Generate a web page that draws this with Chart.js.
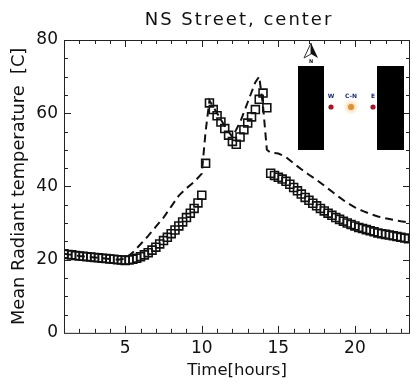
<!DOCTYPE html>
<html>
<head>
<meta charset="utf-8">
<script src="https://cdn.jsdelivr.net/npm/chart.js@4"></script>
<style>
  html, body { margin: 0; padding: 0; background: #fff; }
</style>
</head>
<body>
<canvas id="myChart" width="411" height="384"></canvas>
<script>
const chartTitle = 'NS Street, center';

// simulated mean radiant temperature, squares (every 15 min)
const squareHours = [
  1, 1.25, 1.5, 1.75, 2, 2.25, 2.5, 2.75, 3, 3.25, 3.5, 3.75,
  4, 4.25, 4.5, 4.75, 5, 5.25, 5.5, 5.75, 6, 6.25, 6.5, 6.75,
  7, 7.25, 7.5, 7.75, 8, 8.25, 8.5, 8.75, 9, 9.25, 9.5, 9.75,
  10, 10.25, 10.5, 10.75, 11, 11.25, 11.5, 11.75, 12, 12.25, 12.5, 12.75,
  13, 13.25, 13.5, 13.75, 14, 14.25, 14.5, 14.75, 15, 15.25, 15.5, 15.75,
  16, 16.25, 16.5, 16.75, 17, 17.25, 17.5, 17.75, 18, 18.25, 18.5, 18.75,
  19, 19.25, 19.5, 19.75, 20, 20.25, 20.5, 20.75, 21, 21.25, 21.5, 21.75,
  22, 22.25, 22.5, 22.75, 23, 23.25, 23.5
];
const squareTemp = [
  21.6, 21.4, 21.3, 21.1, 21.0, 20.9, 20.8, 20.7, 20.6, 20.5, 20.4, 20.3,
  20.2, 20.1, 20.0, 19.9, 19.8, 19.9, 20.1, 20.4, 20.8, 21.3, 21.9, 22.6,
  23.4, 24.3, 25.2, 26.1, 27.1, 28.1, 29.2, 30.3, 31.5, 32.7, 34.0, 35.5,
  37.6, 46.3, 62.8, 61.0, 59.3, 57.6, 55.8, 54.0, 52.3, 51.5, 53.5, 55.5,
  57.3, 59.0, 61.0, 63.8, 65.5, 61.5, 43.6, 43.0, 42.5, 42.0, 41.4, 40.6,
  39.7, 38.8, 37.9, 37.0, 36.2, 35.4, 34.7, 34.0, 33.3, 32.7, 32.1, 31.5,
  31.0, 30.5, 30.0, 29.6, 29.2, 28.8, 28.5, 28.2, 27.9, 27.6, 27.3, 27.1,
  26.9, 26.7, 26.5, 26.3, 26.1, 25.9, 25.7
];

// dashed curve
const dashHours = [
  1, 1.5, 2, 2.5, 3, 3.5, 4, 4.5, 5, 5.5, 6, 6.5, 7, 7.5, 8, 8.5, 9, 9.5,
  10, 10.25, 10.5, 11, 11.5, 12, 12.5, 13, 13.5, 13.75, 14, 14.25, 14.5,
  15, 15.5, 16, 16.5, 17, 17.5, 18, 18.5, 19, 19.5, 20, 20.5, 21, 21.5,
  22, 22.5, 23, 23.5, 24
];
const dashTemp = [
  21.6, 21.3, 21.0, 20.8, 20.6, 20.4, 20.2, 20.0, 20.2, 22.0, 24.2, 26.5,
  29.0, 31.5, 34.5, 37.5, 39.5, 41.2,
  43.5, 55.0, 63.5, 60.0, 56.5, 53.5, 57.5, 63.0, 68.5, 70.0, 62.0, 50.0, 49.2,
  49.0, 48.0, 46.3, 44.7, 43.2, 41.8, 40.2, 38.6, 37.0, 35.5, 34.3, 33.3, 32.5, 31.8,
  31.3, 30.9, 30.5, 30.2, 30.0
];

const xTickValues = [5, 10, 15, 20];
const yTickValues = [0, 20, 40, 60, 80];

const ink = '#111';
const fontFamily = '"DejaVu Sans", sans-serif';

// IDL-like box with inward ticks on all four sides
const frameTicks = {
  id: 'frameTicks',
  afterDatasetsDraw(chart) {
    const ctx = chart.ctx;
    const a = chart.chartArea;
    const xs = chart.scales.x, ys = chart.scales.y;
    ctx.save();
    ctx.strokeStyle = '#222';
    ctx.lineWidth = 1;
    ctx.strokeRect(a.left + 0.5, a.top + 0.5, a.right - a.left - 1, a.bottom - a.top);
    ctx.beginPath();
    for (let h = 2; h <= 23; h++) {
      const px = Math.round(xs.getPixelForValue(h)) + 0.5;
      const len = h % 5 === 0 ? 7 : 4;
      ctx.moveTo(px, a.bottom); ctx.lineTo(px, a.bottom - len);
      ctx.moveTo(px, a.top); ctx.lineTo(px, a.top + len);
    }
    for (let v = 5; v < 80; v += 5) {
      const py = Math.round(ys.getPixelForValue(v)) + 0.5;
      const len = v % 20 === 0 ? 7 : 4;
      ctx.moveTo(a.left, py); ctx.lineTo(a.left + len, py);
      ctx.moveTo(a.right, py); ctx.lineTo(a.right - len, py);
    }
    ctx.stroke();

    // wide-spaced title, centred over the plot box
    ctx.fillStyle = ink;
    ctx.font = '18px ' + fontFamily;
    ctx.letterSpacing = '2px';
    ctx.textAlign = 'center';
    ctx.textBaseline = 'middle';
    ctx.fillText(chartTitle, (a.left + a.right) / 2 + 2, 20);
    ctx.restore();
  }
};

// street sketch in the upper right corner
const streetInset = {
  id: 'streetInset',
  afterDraw(chart) {
    const ctx = chart.ctx;
    const a = chart.chartArea;
    const r = a.right, t = a.top;
    ctx.save();
    ctx.fillStyle = '#000';
    ctx.fillRect(r - 112, t + 26, 26, 84);
    ctx.fillRect(r - 33, t + 26, 27, 84);

    // north arrow
    const cx = r - 99;
    ctx.beginPath();
    ctx.moveTo(cx, t + 3); ctx.lineTo(cx - 7, t + 18); ctx.lineTo(cx, t + 14); ctx.closePath();
    ctx.fillStyle = '#fff'; ctx.fill();
    ctx.strokeStyle = '#333'; ctx.lineWidth = 1; ctx.stroke();
    ctx.beginPath();
    ctx.moveTo(cx, t + 3); ctx.lineTo(cx + 7, t + 18); ctx.lineTo(cx, t + 14); ctx.closePath();
    ctx.fillStyle = '#111'; ctx.fill();
    ctx.font = 'bold 5px ' + fontFamily;
    ctx.textAlign = 'center';
    ctx.fillText('N', cx, t + 23);

    // measuring points
    const dy = t + 67;
    const glow = ctx.createRadialGradient(r - 59, dy, 1, r - 59, dy, 8);
    glow.addColorStop(0, 'rgba(240,170,80,0.7)');
    glow.addColorStop(1, 'rgba(250,210,150,0)');
    ctx.fillStyle = glow;
    ctx.beginPath(); ctx.arc(r - 59, dy, 8, 0, Math.PI * 2); ctx.fill();
    ctx.fillStyle = '#d9923a';
    ctx.beginPath(); ctx.arc(r - 59, dy, 3, 0, Math.PI * 2); ctx.fill();
    ctx.fillStyle = '#a0192a';
    ctx.beginPath(); ctx.arc(r - 79, dy, 2.6, 0, Math.PI * 2); ctx.fill();
    ctx.beginPath(); ctx.arc(r - 37, dy, 2.6, 0, Math.PI * 2); ctx.fill();

    ctx.fillStyle = '#1c2a6b';
    ctx.font = 'bold 6px ' + fontFamily;
    ctx.fillText('W', r - 79, t + 58);
    ctx.fillText('C-N', r - 59, t + 58);
    ctx.fillText('E', r - 37, t + 58);
    ctx.restore();
  }
};

new Chart(document.getElementById('myChart'), {
  type: 'scatter',
  data: {
    datasets: [{
      label: 'squares',
      data: squareHours.map((h, i) => ({ x: h, y: squareTemp[i] })),
      showLine: false,
      pointStyle: 'rect',
      pointRadius: 5.6,
      pointBorderWidth: 1.6,
      borderColor: ink,
      backgroundColor: 'rgba(0,0,0,0)',
    }, {
      label: 'dashed',
      data: dashHours.map((h, i) => ({ x: h, y: dashTemp[i] })),
      showLine: true,
      pointRadius: 0,
      borderColor: ink,
      borderWidth: 2,
      borderDash: [8, 5],
      tension: 0,
    }]
  },
  options: {
    responsive: false,
    animation: false,
    devicePixelRatio: 1,
    layout: { autoPadding: false, padding: { left: 9, right: 1, top: 40, bottom: 4 } },
    plugins: {
      legend: { display: false },
      tooltip: { enabled: false },
      title: { display: false },
    },
    scales: {
      x: {
        type: 'linear',
        min: 1,
        max: 23.6,
        afterBuildTicks: (scale) => { scale.ticks = xTickValues.map(v => ({ value: v })); },
        grid: { display: false, drawTicks: false },
        border: { display: false },
        ticks: { color: ink, padding: 7.5, maxRotation: 0, font: { family: fontFamily, size: 17, lineHeight: 1 } },
        title: {
          display: true, text: 'Time[hours]', color: ink,
          padding: { top: -3, bottom: 0 },
          font: { family: fontFamily, size: 16.5, lineHeight: 1.1 },
        },
      },
      y: {
        min: 0,
        max: 80,
        afterBuildTicks: (scale) => { scale.ticks = yTickValues.map(v => ({ value: v })); },
        grid: { display: false, drawTicks: false },
        border: { display: false },
        ticks: { color: ink, padding: 6, font: { family: fontFamily, size: 17 } },
        title: {
          display: true, text: 'Mean Radiant temperature  [C]', color: ink,
          padding: { top: 0, bottom: 0 },
          font: { family: fontFamily, size: 17.8 },
        },
      },
    },
  },
  plugins: [frameTicks, streetInset],
});
</script>
</body>
</html>
